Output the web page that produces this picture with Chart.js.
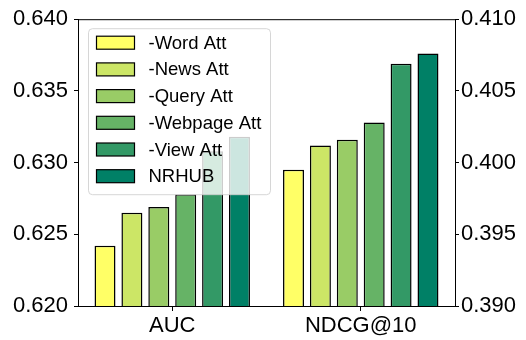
<!DOCTYPE html>
<html>
<head>
<meta charset="utf-8">
<script src="https://cdn.jsdelivr.net/npm/chart.js@4.4.0/dist/chart.umd.min.js"></script>
<style>
  body { margin: 0; background: #fff; }
</style>
</head>
<body>
<canvas id="myChart" width="526" height="340"></canvas>
<script>
var categories = ['AUC', 'NDCG@10'];
var names = ['-Word Att', '-News Att', '-Query Att', '-Webpage Att', '-View Att', 'NRHUB'];
var aucValues = [0.6242, 0.6265, 0.6269, 0.6278, 0.6308, 0.6318];
var ndcgValues = [0.3995, 0.4012, 0.4016, 0.4028, 0.4069, 0.4076];
var aucTicks = [0.620, 0.625, 0.630, 0.635, 0.640];
var ndcgTicks = [0.390, 0.395, 0.400, 0.405, 0.410];
var colores = ['#ffff66', '#cce666', '#99cc66', '#66b366', '#339966', '#008066'];

var fuente = 'Arial, "Liberation Sans", sans-serif';

// AUC goes on the left axis, NDCG on the right one
var datasets = [];
for (var i = 0; i < names.length; i++) {
    datasets.push({
        label: names[i],
        data: [aucValues[i], null],
        yAxisID: 'y',
        backgroundColor: colores[i],
        borderColor: '#000',
        borderWidth: 1.5,
        borderSkipped: false,
        skipNull: true,
        categoryPercentage: 0.856,
        barPercentage: 0.78
    });
}
for (var j = 0; j < names.length; j++) {
    datasets.push({
        label: names[j],
        data: [null, ndcgValues[j]],
        yAxisID: 'y1',
        backgroundColor: colores[j],
        borderColor: '#000',
        borderWidth: 1.5,
        borderSkipped: false,
        skipNull: true,
        categoryPercentage: 0.856,
        barPercentage: 0.78
    });
}

// legend drawn over the bars, like the matplotlib one
var leyenda = {
    id: 'leyenda',
    afterDatasetsDraw: function (chart) {
        var ctx = chart.ctx;
        var area = chart.chartArea;
        ctx.save();
        // top spine
        ctx.strokeStyle = '#000';
        ctx.lineWidth = 1;
        ctx.beginPath();
        ctx.moveTo(area.left, area.top + 0.5);
        ctx.lineTo(area.right, area.top + 0.5);
        ctx.stroke();

        var x0 = area.left + 10.5, y0 = area.top + 9.5, w = 182, h = 166;
        ctx.beginPath();
        ctx.roundRect(x0, y0, w, h, 4);
        ctx.fillStyle = 'rgba(255,255,255,0.8)';
        ctx.fill();
        ctx.strokeStyle = 'rgba(204,204,204,0.8)';
        ctx.stroke();

        ctx.font = '18.5px ' + fuente;
        ctx.textBaseline = 'middle';
        for (var k = 0; k < names.length; k++) {
            var yc = y0 + 14 + k * 26.7;
            ctx.fillStyle = colores[k];
            ctx.fillRect(x0 + 8, yc - 6.5, 38, 13);
            ctx.strokeStyle = '#000';
            ctx.lineWidth = 1.2;
            ctx.strokeRect(x0 + 8, yc - 6.5, 38, 13);
            ctx.fillStyle = '#000';
            ctx.fillText(names[k], x0 + 60, yc + 1);
        }
        ctx.restore();
    }
};

var ctx = document.getElementById('myChart');
new Chart(ctx, {
    type: 'bar',
    data: {
        labels: categories,
        datasets: datasets
    },
    options: {
        responsive: false,
        animation: false,
        layout: { padding: { top: 15, left: 0, right: 0, bottom: 0 } },
        plugins: {
            legend: { display: false },
            tooltip: { enabled: false }
        },
        scales: {
            x: {
                offset: true,
                grid: { offset: false, drawOnChartArea: false, tickLength: 5, color: '#000' },
                border: { color: '#000', width: 1 },
                ticks: { color: '#000', font: { family: fuente, size: 22 }, padding: 2 },
                afterFit: function (s) { s.height = 34; }
            },
            y: {
                position: 'left',
                min: 0.62,
                max: 0.64,
                afterBuildTicks: function (s) {
                    s.ticks = aucTicks.map(function (v) { return { value: v }; });
                },
                grid: { drawOnChartArea: false, tickLength: 4, color: '#000' },
                border: { color: '#000', width: 1 },
                ticks: {
                    color: '#000',
                    font: { family: fuente, size: 22 },
                    padding: 6,
                    callback: function (v) { return v.toFixed(3); }
                },
                afterFit: function (s) { s.width = 78; }
            },
            y1: {
                position: 'right',
                min: 0.39,
                max: 0.41,
                afterBuildTicks: function (s) {
                    s.ticks = ndcgTicks.map(function (v) { return { value: v }; });
                },
                grid: { drawOnChartArea: false, tickLength: 4, color: '#000' },
                border: { color: '#000', width: 1 },
                ticks: {
                    color: '#000',
                    font: { family: fuente, size: 22 },
                    padding: 2,
                    callback: function (v) { return v.toFixed(3); }
                },
                afterFit: function (s) { s.width = 71; }
            }
        }
    },
    plugins: [leyenda]
});
</script>
</body>
</html>
